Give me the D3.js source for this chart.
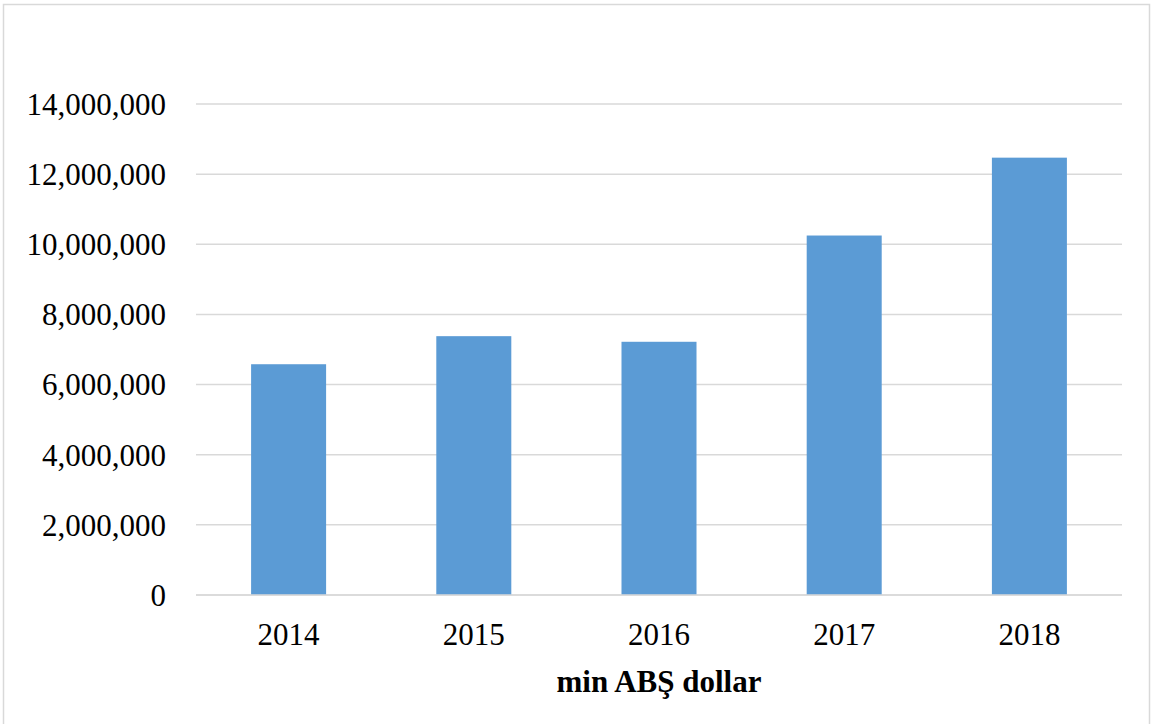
<!DOCTYPE html>
<html>
<head>
<meta charset="utf-8">
<script src="https://cdn.jsdelivr.net/npm/d3@7"></script>
<style>
  body { margin: 0; background: #fff; }
  svg { display: block; }
</style>
</head>
<body>
<script>
var years = ["2014", "2015", "2016", "2017", "2018"];
var values = [6580000, 7380000, 7220000, 10250000, 12470000];
var yTicks = [0, 2000000, 4000000, 6000000, 8000000, 10000000, 12000000, 14000000];
var axisTitle = "min ABŞ dollar";

var w = 1153, h = 724;
var mLeft = 196, mRight = 1122, mTop = 104, mBottom = 595;
var serif = "'Liberation Serif', 'Times New Roman', serif";

var svg = d3.select("body").append("svg")
    .attr("width", w)
    .attr("height", h);

// chart frame (top part is cut off in the picture)
svg.append("rect")
    .attr("x", 3.5).attr("y", 4.5)
    .attr("width", 1146).attr("height", 760)
    .attr("fill", "none")
    .attr("stroke", "#d9d9d9")
    .attr("stroke-width", 1.5);

var x = d3.scaleBand()
    .domain(years)
    .range([mLeft, mRight])
    .paddingInner(0.595)
    .paddingOuter(0.2975);

var y = d3.scaleLinear()
    .domain([0, 14000000])
    .range([mBottom, mTop]);

// gridlines
svg.append("g")
  .selectAll("line")
    .data(yTicks)
    .enter()
  .append("line")
    .attr("x1", mLeft)
    .attr("x2", mRight)
    .attr("y1", function(d) { return y(d); })
    .attr("y2", function(d) { return y(d); })
    .attr("stroke", "#d9d9d9")
    .attr("stroke-width", 1.5);

// y labels
var fmt = d3.format(",");
svg.append("g")
  .selectAll("text")
    .data(yTicks)
    .enter()
  .append("text")
    .text(function(d) { return fmt(d); })
    .attr("x", 166)
    .attr("y", function(d) { return y(d); })
    .attr("dy", "0.35em")
    .attr("text-anchor", "end")
    .attr("font-family", serif)
    .attr("font-size", "31px")
    .attr("fill", "#000");

// bars
svg.append("g")
  .selectAll("rect")
    .data(values)
    .enter()
  .append("rect")
    .attr("x", function(d, i) { return x(years[i]); })
    .attr("y", function(d) { return y(d); })
    .attr("width", x.bandwidth())
    .attr("height", function(d) { return mBottom - y(d); })
    .attr("fill", "#5b9bd5");

// baseline on top of bars
svg.append("line")
    .attr("x1", mLeft).attr("x2", mRight)
    .attr("y1", y(0)).attr("y2", y(0))
    .attr("stroke", "#d9d9d9")
    .attr("stroke-width", 1.5);

// x labels
svg.append("g")
  .selectAll("text")
    .data(years)
    .enter()
  .append("text")
    .text(function(d) { return d; })
    .attr("x", function(d) { return x(d) + x.bandwidth() / 2; })
    .attr("y", 634)
    .attr("dy", "0.35em")
    .attr("text-anchor", "middle")
    .attr("font-family", serif)
    .attr("font-size", "31px")
    .attr("fill", "#000");

svg.append("text")
    .text(axisTitle)
    .attr("x", (mLeft + mRight) / 2)
    .attr("y", 681)
    .attr("dy", "0.35em")
    .attr("text-anchor", "middle")
    .attr("font-family", serif)
    .attr("font-weight", "bold")
    .attr("font-size", "31px")
    .attr("fill", "#000");
</script>
</body>
</html>
